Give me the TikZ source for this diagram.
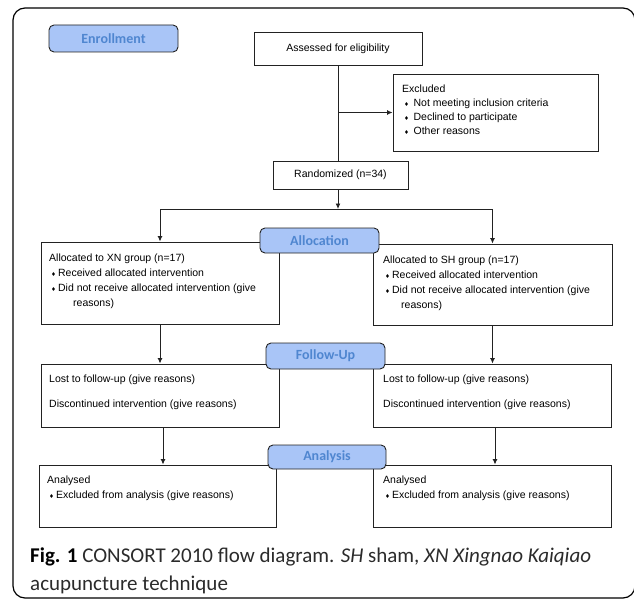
\documentclass[tikz,border=0pt]{standalone}
\usepackage{fontspec}
\setmainfont{Liberation Sans}
\newfontfamily\stagefont{Carlito}
\newfontfamily\symfont{DejaVu Sans}
\usetikzlibrary{arrows.meta}

\definecolor{stagefill}{HTML}{A9C5F7}
\definecolor{stagetext}{HTML}{4F86D0}
\definecolor{linegray}{HTML}{222222}
\definecolor{captext}{HTML}{2B2B2B}

\newcommand{\dbul}{{\symfont\fontsize{5.5}{5.5}\selectfont ♦}}

\tikzset{
  box/.style={draw=linegray, line width=0.9pt, fill=white, inner sep=0pt,
    font=\fontsize{10.5}{15}\selectfont},
  stage/.style={draw=linegray, line width=0.9pt, fill=stagefill, rounded corners=5pt,
    text=stagetext, font=\stagefont\bfseries\fontsize{14}{14}\selectfont,
    minimum width=119pt, minimum height=25pt, inner sep=0pt},
  txt/.style={anchor=north west, align=left, inner sep=0pt, font=\fontsize{10.5}{15}\selectfont},
  flow/.style={draw=linegray, line width=0.9pt, -{Latex[length=5.5pt,width=5pt]}},
  link/.style={draw=linegray, line width=0.9pt}
}

\begin{document}
\begin{tikzpicture}[x=1pt,y=-1pt]
\useasboundingbox (0,0) rectangle (634,599);
\draw[line width=1.2pt, rounded corners=12pt] (13,8) rectangle (635,598);

% boxes
\node[box, minimum width=168pt, minimum height=33pt] (assess) at (338,48.5) {Assessed for eligibility};
\node[box, minimum width=205pt, minimum height=77pt] (excl) at (495.5,112.5) {};
\node[box, minimum width=135pt, minimum height=28pt] (rand) at (340.5,175) {Randomized (n=34)};
\node[box, minimum width=238pt, minimum height=82pt] (allocL) at (160,283) {};
\node[box, minimum width=239pt, minimum height=81pt] (allocR) at (492.5,284.5) {};
\node[box, minimum width=238pt, minimum height=63pt] (fuL) at (160,395.5) {};
\node[box, minimum width=238pt, minimum height=63pt] (fuR) at (492,395.5) {};
\node[box, minimum width=237pt, minimum height=62pt] (anL) at (157.5,496) {};
\node[box, minimum width=238pt, minimum height=62pt] (anR) at (492,496) {};

% box texts
\node[txt, font=\fontsize{10.5}{14}\selectfont] (excltxt) at (402,84.7) {Excluded\\
  \hspace*{2pt}\dbul\hspace{4.5pt}Not meeting inclusion criteria\\
  \hspace*{2pt}\dbul\hspace{4.5pt}Declined to participate\\
  \hspace*{2pt}\dbul\hspace{4.5pt}Other reasons};
\node[txt] (allocLtxt) at (49,253.7) {Allocated to XN group (n=17)\\
  \hspace*{2pt}\dbul\hspace{2pt}Received allocated intervention\\
  \hspace*{2pt}\dbul\hspace{2pt}Did not receive allocated intervention (give\\
  \hspace*{24pt}reasons)};
\node[txt] (allocRtxt) at (383,255.7) {Allocated to SH group (n=17)\\
  \hspace*{2pt}\dbul\hspace{2pt}Received allocated intervention\\
  \hspace*{2pt}\dbul\hspace{2pt}Did not receive allocated intervention (give\\
  \hspace*{18pt}reasons)};
\node[txt] (fuLtxt) at (49,374.7) {Lost to follow-up (give reasons)\\[10pt]
  Discontinued intervention (give reasons)};
\node[txt] (fuRtxt) at (383,374.7) {Lost to follow-up (give reasons)\\[10pt]
  Discontinued intervention (give reasons)};
\node[txt] (anLtxt) at (47,475.7) {Analysed\\
  \hspace*{2pt}\dbul\hspace{2pt}Excluded from analysis (give reasons)};
\node[txt] (anRtxt) at (383,475.7) {Analysed\\
  \hspace*{2pt}\dbul\hspace{2pt}Excluded from analysis (give reasons)};

% connectors
\coordinate (split) at (338,209);
\draw[link] (assess.south) -- (assess.south |- rand.north);
\draw[flow] (assess.south |- excl.west) -- (excl.west);
\draw[flow] (assess.south |- rand.south) -- (split);
\draw[link] (allocL.north |- split) -- (allocR.north |- split);
\draw[flow] (allocL.north |- split) -- (allocL.north);
\draw[flow] (allocR.north |- split) -- (allocR.north);
\draw[flow] (allocL.south) -- (allocL.south |- fuL.north);
\draw[flow] (allocR.south) -- (allocR.south |- fuR.north);
\draw[flow] ([xshift=3pt]fuL.south) -- ([xshift=3pt]fuL.south |- anL.north);
\draw[flow] ([xshift=3pt]fuR.south) -- ([xshift=3pt]fuR.south |- anR.north);

% stage labels
\node[stage, minimum width=129pt, minimum height=27pt] (enrol) at (113.5,38.5) {Enrollment};
\node[stage] (allocation) at (319.5,240.5) {Allocation};
\node[stage, minimum height=26pt] (followup) at (325.5,356) {Follow-Up};
\node[stage, minimum width=118pt, minimum height=24pt] (analysis) at (327,457) {Analysis};

% caption
\node[anchor=north west, align=left, inner sep=0pt, text=captext,
  font=\stagefont\fontsize{21}{28}\selectfont] (caption) at (30,548)
  {\textbf{\color{black}Fig. 1} CONSORT 2010 flow diagram. \textit{SH} sham, \textit{XN Xingnao Kaiqiao}\\
  acupuncture technique};
\end{tikzpicture}
\end{document}
